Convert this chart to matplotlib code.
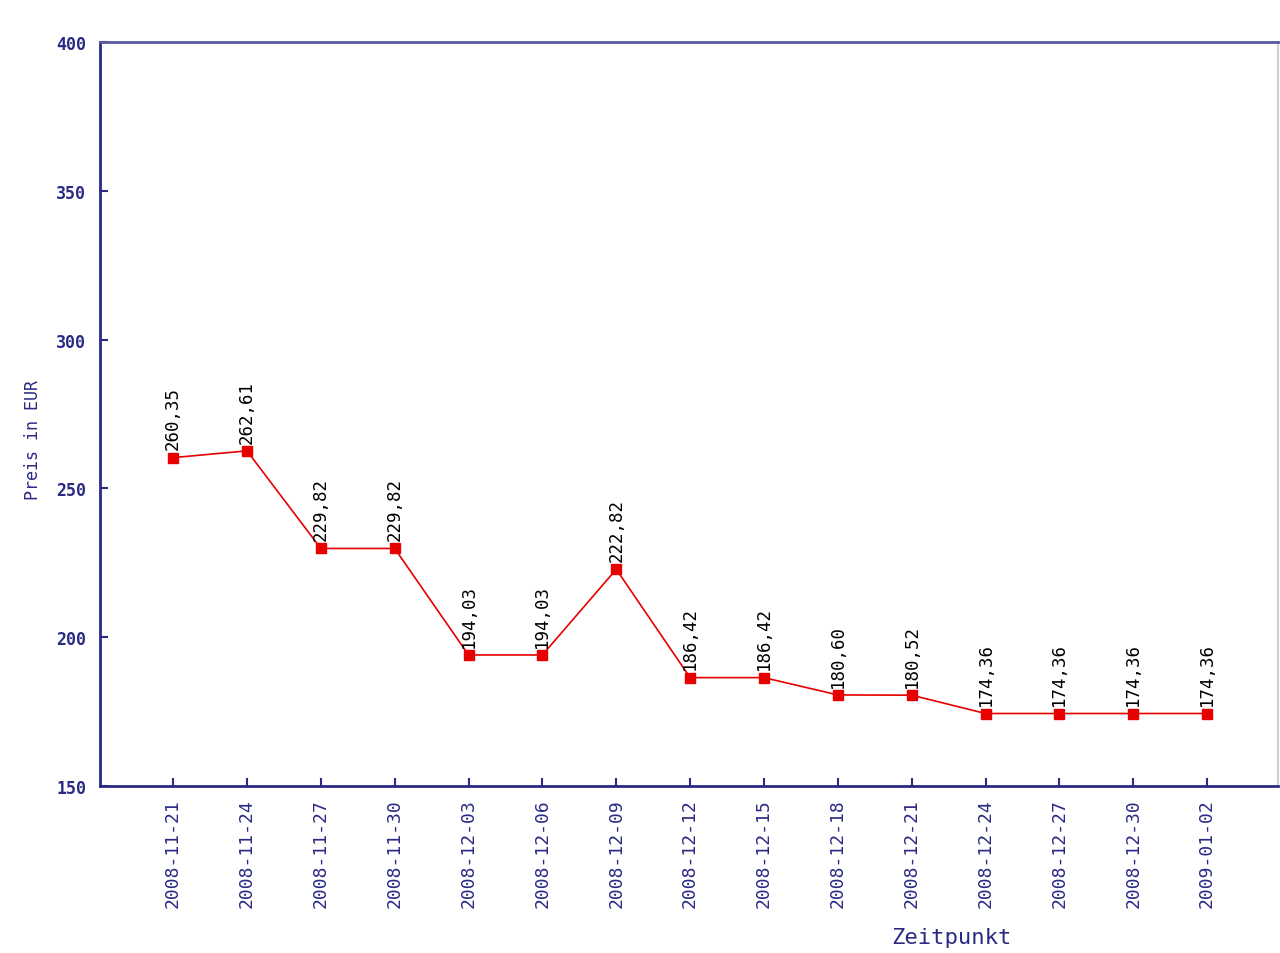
import numpy as np
import matplotlib
matplotlib.use("Agg")
import matplotlib.pyplot as plt

dates = [
    "2008-11-21", "2008-11-24", "2008-11-27", "2008-11-30",
    "2008-12-03", "2008-12-06", "2008-12-09", "2008-12-12",
    "2008-12-15", "2008-12-18", "2008-12-21", "2008-12-24",
    "2008-12-27", "2008-12-30", "2009-01-02",
]
prices = [
    260.35, 262.61, 229.82, 229.82, 194.03, 194.03, 222.82, 186.42,
    186.42, 180.60, 180.52, 174.36, 174.36, 174.36, 174.36,
]
y_ticks = [150, 200, 250, 300, 350, 400]

NAVY = "#2a2a85"
RED = "#e60000"
MONO = "DejaVu Sans Mono"

fig = plt.figure(figsize=(12.8, 9.54), dpi=100)
ax = fig.add_axes([100 / 1280, 167 / 954, 1178 / 1280, 744 / 954])

x = np.arange(len(dates))
ax.plot(x, prices, color=RED, linewidth=1.2, marker="s", markersize=7,
        markeredgecolor=RED, markerfacecolor=RED, zorder=3)

# value labels above each point, decimal comma
for xi, yi in zip(x, prices):
    label = f"{yi:.2f}".replace(".", ",")
    ax.annotate(label, (xi, yi), xytext=(0, 6), textcoords="offset points",
                rotation=90, ha="center", va="bottom", fontsize=12.5,
                family=MONO, color="black")

ax.set_xlim(-0.99, 14.96)
ax.set_ylim(150, 400)
ax.set_xticks(x)
ax.set_xticklabels(dates, rotation=90, fontsize=13, family=MONO, color=NAVY)
ax.set_yticks(y_ticks)
ax.set_yticklabels([str(v) for v in y_ticks], fontsize=12, family=MONO,
                   color=NAVY, fontweight="bold")
ax.tick_params(axis="both", direction="in", length=6, width=1.5,
               color=NAVY)
ax.tick_params(axis="x", pad=9)
ax.tick_params(axis="y", pad=10)

for side in ["left", "top", "bottom"]:
    ax.spines[side].set_color(NAVY)
    ax.spines[side].set_linewidth(2)
ax.spines["top"].set_color("#5a5aa0")
ax.spines["right"].set_color("#d0d0d8")
ax.spines["right"].set_linewidth(1.5)

fig.text(33 / 1280, 1 - 440 / 954, "Preis in EUR", rotation=90,
         ha="center", va="center", fontsize=12, color=NAVY, family=MONO)
fig.text(951 / 1280, 1 - 938 / 954, "Zeitpunkt", ha="center", va="center",
         fontsize=16, color=NAVY, family=MONO)

fig.savefig("out.png", dpi=100, facecolor="white")
